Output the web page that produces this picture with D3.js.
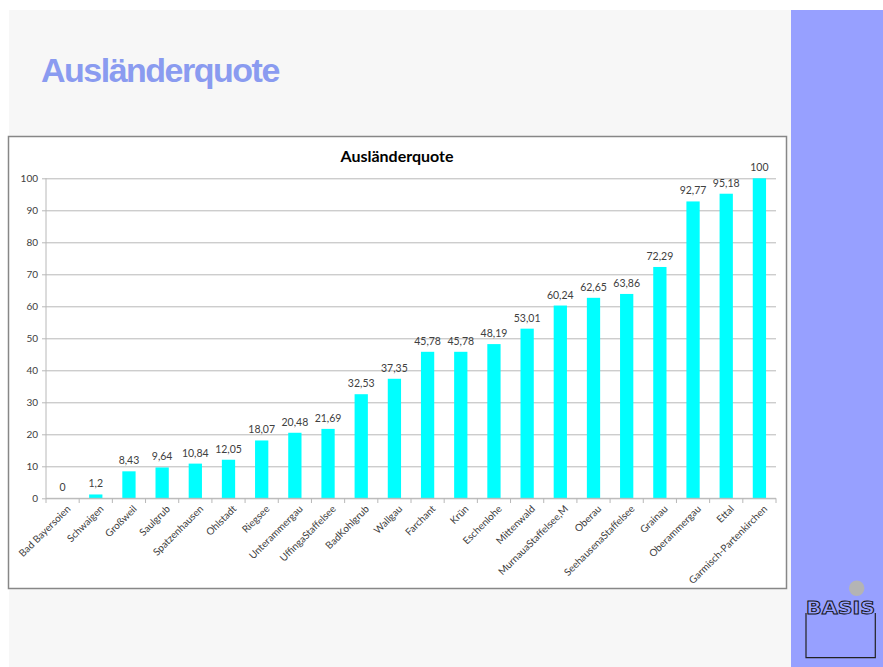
<!DOCTYPE html>
<html>
<head>
<meta charset="utf-8">
<script src="https://cdn.jsdelivr.net/npm/d3@7"></script>
<style>
  body { margin: 0; background: #fff; }
  svg { display: block; }
</style>
</head>
<body>
<div id="chart"></div>
<script>
var width = 883,
  height = 667;

// data
var gemeinden = ["Bad Bayersoien", "Schwaigen", "Großweil", "Saulgrub", "Spatzenhausen",
  "Ohlstadt", "Riegsee", "Unterammergau", "UffingaStaffelsee", "BadKohlgrub", "Wallgau",
  "Farchant", "Krün", "Eschenlohe", "Mittenwald", "MurnauaStaffelsee,M", "Oberau",
  "SeehausenaStaffelsee", "Grainau", "Oberammergau", "Ettal", "Garmisch-Partenkirchen"]
var quote = [0, 1.2, 8.43, 9.64, 10.84, 12.05, 18.07, 20.48, 21.69, 32.53, 37.35,
  45.78, 45.78, 48.19, 53.01, 60.24, 62.65, 63.86, 72.29, 92.77, 95.18, 100]
var yTicks = [0, 10, 20, 30, 40, 50, 60, 70, 80, 90, 100]

var svg = d3.select("#chart").append("svg")
  .attr("width", width)
  .attr("height", height)

// slide background + side band
svg.append("rect")
  .attr("x", 9).attr("y", 10)
  .attr("width", width - 9).attr("height", height - 10)
  .attr("fill", "#f7f7f7")
svg.append("rect")
  .attr("x", 791).attr("y", 10)
  .attr("width", width - 791).attr("height", height - 10)
  .attr("fill", "#97a0ff")

svg.append("text")
  .attr("x", 41).attr("y", 82)
  .attr("font-family", "Liberation Sans, Arial, sans-serif")
  .attr("font-weight", "bold")
  .attr("font-size", 34)
  .attr("letter-spacing", -1.5)
  .attr("fill", "#8a9bf0")
  .text("Ausländerquote")

// chart frame
svg.append("rect")
  .attr("x", 8.5).attr("y", 136.5)
  .attr("width", 778).attr("height", 452)
  .attr("fill", "#fff")
  .attr("stroke", "#878787")
  .attr("stroke-width", 1.5)

svg.append("text")
  .attr("x", 397).attr("y", 162)
  .attr("text-anchor", "middle")
  .attr("font-family", "Lato, sans-serif")
  .attr("font-weight", "bold")
  .attr("font-size", 16)
  .attr("fill", "#000")
  .text("Ausländerquote")

var x = d3.scaleBand()
  .domain(gemeinden)
  .range([46, 776])
  .paddingInner(0.6)
  .paddingOuter(0.3)

var y = d3.scaleLinear()
  .domain([0, 100])
  .range([498.3, 178.3])

var font = "Lato, sans-serif"

// gridlines + y labels
var yAxis = svg.append("g")
  .attr("transform", "translate(46,0)")
  .call(d3.axisLeft(y).tickValues(yTicks).tickSize(-730).tickPadding(8).tickSizeOuter(0))
yAxis.select(".domain").remove()
yAxis.selectAll(".tick line")
  .attr("x1", -4)
  .attr("stroke", "#b8b8b8")
yAxis.selectAll(".tick text")
  .attr("font-family", font)
  .attr("font-size", 10)
  .attr("fill", "#404040")
svg.append("line")
  .attr("x1", 46).attr("x2", 46)
  .attr("y1", 178.3).attr("y2", 498.3)
  .attr("stroke", "#b8b8b8")

// bars
svg.append("g")
  .selectAll("rect")
  .data(quote)
  .enter().append("rect")
    .attr("x", (d, i) => x(gemeinden[i]))
    .attr("y", d => y(d))
    .attr("width", x.bandwidth())
    .attr("height", d => y(0) - y(d))
    .attr("fill", "#00ffff")

svg.append("g")
  .selectAll("text")
  .data(quote)
  .enter().append("text")
    .attr("x", (d, i) => x(gemeinden[i]) + x.bandwidth() / 2)
    .attr("y", d => y(d) - 7)
    .attr("text-anchor", "middle")
    .attr("font-family", font)
    .attr("font-size", 10.5)
    .attr("fill", "#404040")
    .text(d => String(d).replace(".", ","))

// x axis
var step = x.step()
svg.append("line")
  .attr("x1", 46).attr("x2", 776)
  .attr("y1", 498.3).attr("y2", 498.3)
  .attr("stroke", "#b8b8b8")
svg.append("g")
  .selectAll("line")
  .data(d3.range(gemeinden.length + 1))
  .enter().append("line")
    .attr("x1", i => 46 + i * step)
    .attr("x2", i => 46 + i * step)
    .attr("y1", 498.3).attr("y2", 503)
    .attr("stroke", "#b8b8b8")

svg.append("g")
  .selectAll("text")
  .data(gemeinden)
  .enter().append("text")
    .attr("transform", d => "translate(" + (x(d) + x.bandwidth() / 2 + 5) + ",506) rotate(-45)")
    .attr("text-anchor", "end")
    .attr("dy", "0.5em")
    .attr("font-family", font)
    .attr("font-size", 10)
    .attr("fill", "#404040")
    .text(d => d)

// logo
var logo = svg.append("g")
logo.append("circle")
  .attr("cx", 856.7).attr("cy", 588.3).attr("r", 7.7)
  .attr("fill", "#b4b4b4")
logo.append("path")
  .attr("d", "M806,613V657.7H875.3V613")
  .attr("fill", "none")
  .attr("stroke", "#222")
  .attr("stroke-width", 1.2)
logo.append("text")
  .attr("x", 806).attr("y", 614)
  .attr("textLength", 69)
  .attr("lengthAdjust", "spacingAndGlyphs")
  .attr("font-family", "DejaVu Sans Condensed, sans-serif")
  .attr("font-weight", "bold")
  .attr("font-size", 17)
  .attr("fill", "#97a0ff")
  .attr("stroke", "#111")
  .attr("stroke-width", 0.8)
  .text("BASIS")
</script>
</body>
</html>
